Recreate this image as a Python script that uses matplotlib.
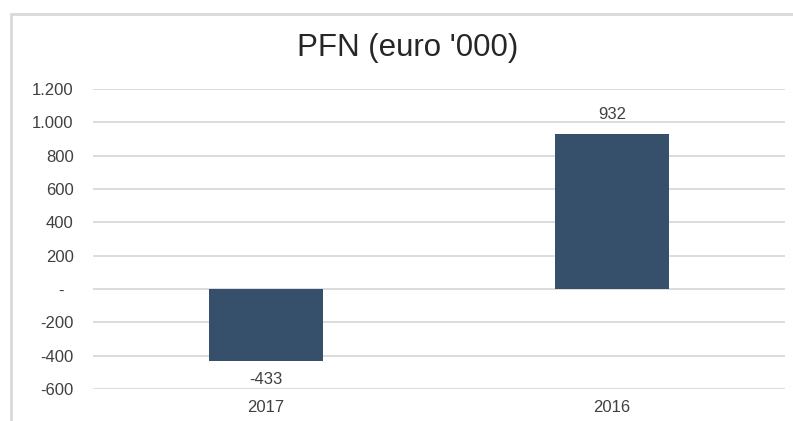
import matplotlib.pyplot as plt
from matplotlib.patches import Rectangle
from matplotlib.ticker import FuncFormatter

# data
years = ['2017', '2016']
pfn = [-433, 932]
y_ticks = [-600, -400, -200, 0, 200, 400, 600, 800, 1000, 1200]

plt.rcParams['font.family'] = ['Liberation Sans', 'DejaVu Sans']

W, H = 793, 421
fig = plt.figure(figsize=(W / 100, H / 100), dpi=100)

# chart area border (light gray frame, runs off the right/bottom edges)
fig.patches.append(Rectangle((11 / W, -0.2), 1.2, (H - 14) / H + 0.2,
                             transform=fig.transFigure, fill=False,
                             edgecolor='#d9d9d9', linewidth=2))

ax = fig.add_axes([93 / W, 32 / H, (785 - 93) / W, 300 / H])

x = range(len(years))
bars = ax.bar(x, pfn, width=0.33, color='#364f6b', zorder=3)

ax.set_xlim(-0.5, 1.5)
ax.set_ylim(-600, 1200)
ax.set_yticks(y_ticks)
ax.set_xticks(list(x))
ax.set_xticklabels(years)


def fmt(v, pos):
    # accounting style: zero shown as a dash
    if v == 0:
        return '-  '
    return '{:,.0f}'.format(v).replace(',', '.')


ax.yaxis.set_major_formatter(FuncFormatter(fmt))
ax.grid(axis='y', color='#d9d9d9', linewidth=1.3, zorder=0)
for s in ax.spines.values():
    s.set_visible(False)
ax.tick_params(axis='y', length=0, pad=14, labelsize=12, labelcolor='#404040')
ax.tick_params(axis='x', length=0, pad=8, labelsize=12, labelcolor='#404040')

# data labels
for b, v in zip(bars, pfn):
    off = 13.5 if v > 0 else -13.5
    ax.annotate(str(v), (b.get_x() + b.get_width() / 2, v),
                xytext=(0, off), textcoords='offset points',
                ha='center', va='center', fontsize=12, color='#404040')

fig.text(408 / W, 1 - 48 / H, "PFN (euro '000)", ha='center', va='center',
         fontsize=22.5, color='#262626')

fig.savefig('out.png', dpi=100, facecolor='white')
